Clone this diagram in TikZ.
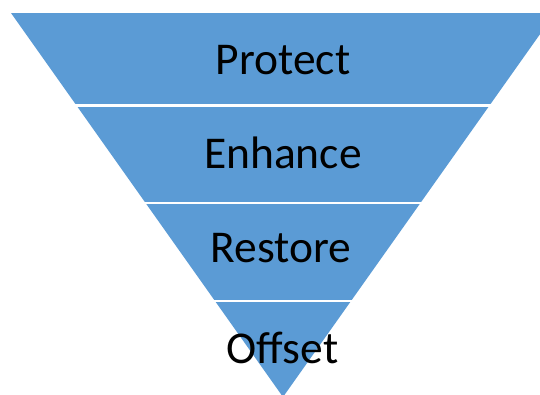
\documentclass[tikz,border=0pt]{standalone}
\usepackage{fontspec}
\setmainfont{Carlito}
\definecolor{bandblue}{HTML}{5B9BD5}
\begin{document}
\begin{tikzpicture}[x=1pt,y=-1pt,
  band/.style={fill=bandblue},
  lbl/.style={anchor=base,inner sep=0pt,font=\fontsize{45.5}{50}\selectfont,text=black}]
\useasboundingbox (0,0) rectangle (540,394);
\begin{scope}
\clip (11,13) -- (555,13) -- (283,397) -- cycle;
\fill[band] (0,13) rectangle (560,104.4);
\fill[band] (0,106.6) rectangle (560,202);
\fill[band] (0,204.2) rectangle (560,299.6);
\fill[band] (0,301.8) rectangle (560,400);
\end{scope}
\node[lbl] (protect) at (283,74) {Protect};
\node[lbl] (enhance) at (283,168) {Enhance};
\node[lbl] (restore) at (281,262.7) {Restore};
\node[lbl] (offset) at (282.5,363) {Offset};
\end{tikzpicture}
\end{document}
